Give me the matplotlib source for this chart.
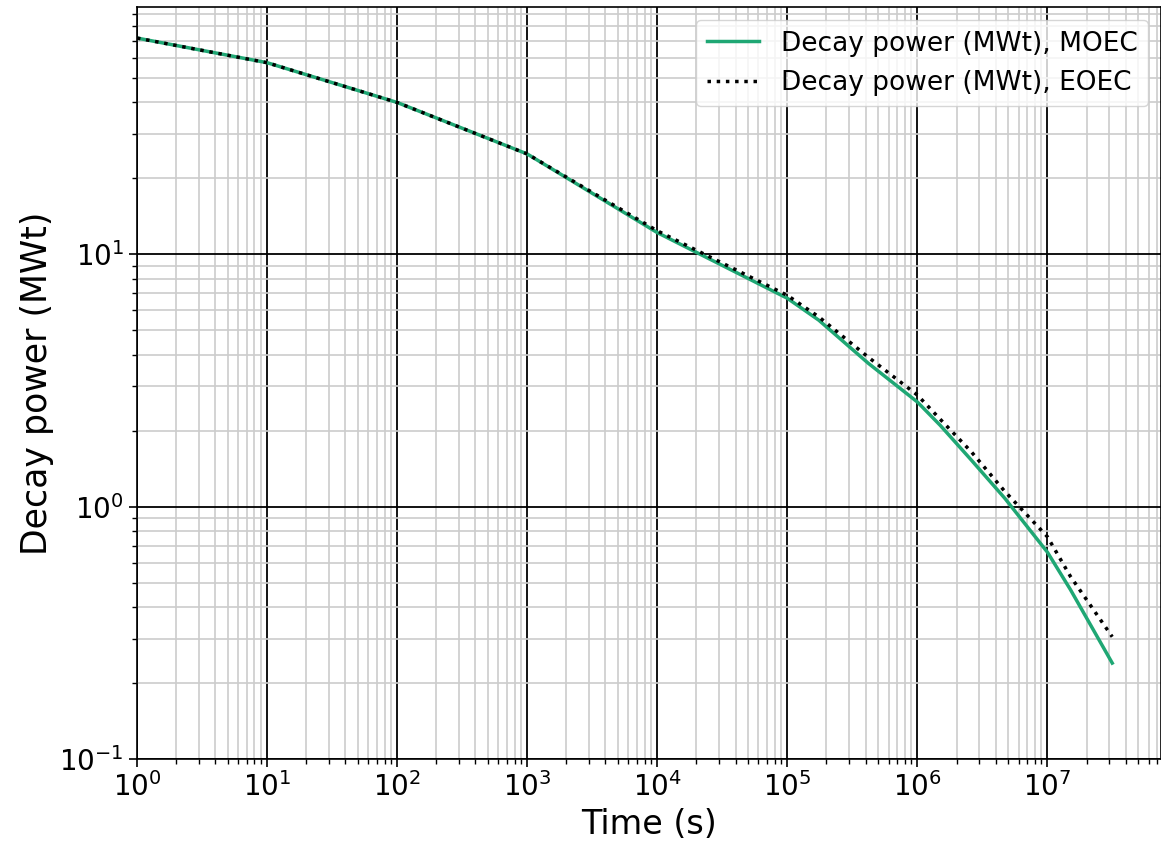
import numpy as np
import matplotlib
matplotlib.use("Agg")
import matplotlib.pyplot as plt

# time points (s) and decay power (MWt)
time_s = [1, 10, 100, 1e3, 1e4, 1e5, 1.75e5, 4.2e5, 1e6, 1.5e6, 2.6e6, 4.7e6, 1e7, 1.5e7, 3.15e7]
power_moec = [72, 57.5, 40, 25, 12.2, 6.7, 5.48, 3.70, 2.60, 2.10, 1.53, 1.08, 0.66, 0.47, 0.24]
power_eoec = [72, 57.5, 40, 25, 12.4, 6.88, 5.65, 3.91, 2.77, 2.22, 1.65, 1.15, 0.76, 0.53, 0.305]

label_moec = "Decay power (MWt), MOEC"
label_eoec = "Decay power (MWt), EOEC"

fig = plt.figure(figsize=(11.61, 8.49), dpi=100)
ax = fig.add_axes([0.118, 0.106, 0.882, 0.886])

ax.plot(time_s, power_moec, color='#1fa774', linewidth=2.5, label=label_moec)
ax.plot(time_s, power_eoec, color='black', linestyle=':', linewidth=2.5, label=label_eoec)

ax.set_xscale('log')
ax.set_yscale('log')
ax.set_xlim(left=1)
ax.set_ylim(bottom=0.1)

ax.grid(which='major', color='black', linewidth=1.3)
ax.grid(which='minor', color='#cccccc', linewidth=1.2)
ax.set_axisbelow(True)

ax.tick_params(which='major', labelsize=20, length=6, width=1.2)
ax.tick_params(which='minor', length=3.5, width=1.0)

ax.set_xlabel("Time (s)", fontsize=24)
ax.set_ylabel("Decay power (MWt)", fontsize=25)

ax.legend(loc='upper right', fontsize=19)

for s in ax.spines.values():
    s.set_linewidth(1.2)

plt.savefig("out.png", dpi=100)
